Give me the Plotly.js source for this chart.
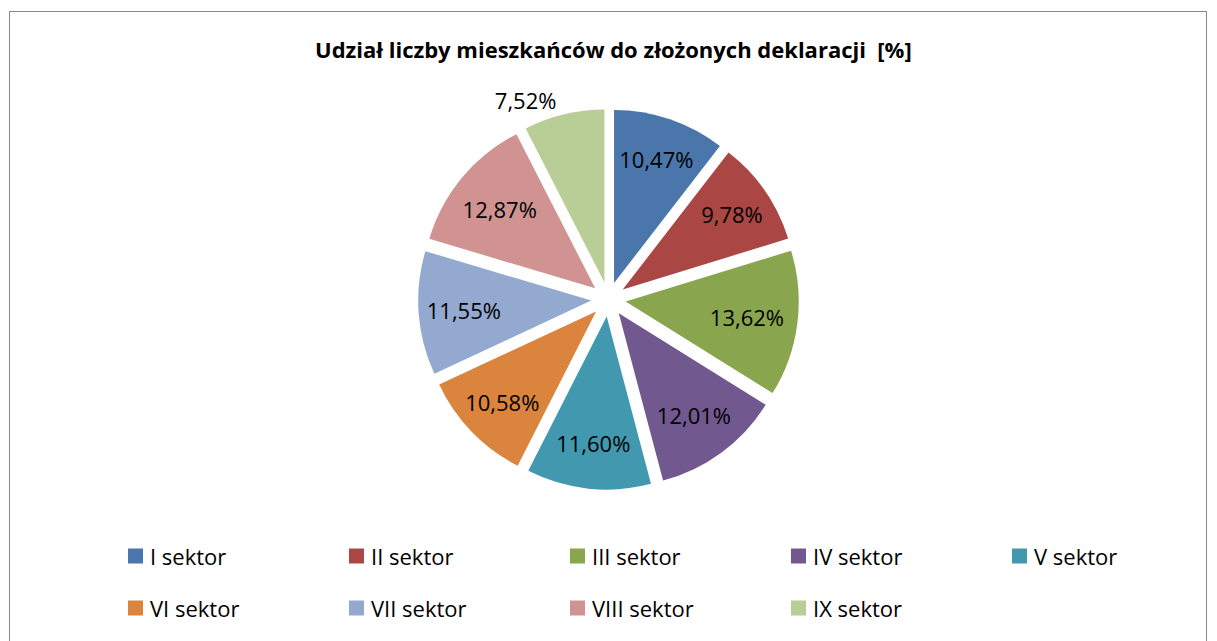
<!DOCTYPE html>
<html>
<head>
<meta charset="utf-8">
<script src="https://cdn.plot.ly/plotly-3.0.1.min.js"></script>
<style>
html,body{margin:0;padding:0;background:#fff;}
#wrap{position:relative;width:1217px;height:641px;}
#chart{width:1217px;height:641px;}
#frame{position:absolute;left:9px;top:11px;width:1196px;height:640px;border:1.5px solid #8a8a8a;pointer-events:none;}
</style>
</head>
<body>
<div id="wrap"><div id="chart"></div><div id="frame"></div></div>
<script>
const categories = ["I sektor","II sektor","III sektor","IV sektor","V sektor","VI sektor","VII sektor","VIII sektor","IX sektor"];
const values = [10.47, 9.78, 13.62, 12.01, 11.60, 10.58, 11.55, 12.87, 7.52];
const colors = ["#4A76AC","#AA4643","#89A54E","#71588F","#4198AF","#DB843D","#93A9CF","#D19392","#B9CD96"];
const textPos = ["inside","inside","inside","inside","inside","inside","inside","inside","outside"];

const FONT = "'Open Sans', Lato, sans-serif";

const trace = {
  type: "pie",
  labels: categories,
  values: values,
  sort: false,
  direction: "clockwise",
  rotation: 0,
  pull: 0.1,
  marker: {colors: colors, line: {color: "#ffffff", width: 0}},
  texttemplate: "%{value:.2f}%",
  textposition: textPos,
  insidetextorientation: "horizontal",
  textfont: {family: FONT, size: 22, color: "#000000"},
  outsidetextfont: {family: FONT, size: 22, color: "#000000"},
  hoverinfo: "label+value",
  domain: {x: [0.2, 0.8], y: [0.236, 0.83]}
};

const layout = {
  width: 1217, height: 641,
  margin: {l: 0, r: 0, t: 0, b: 0},
  paper_bgcolor: "#ffffff",
  separators: ", ",
  showlegend: true,
  title: {
    text: "<b>Udział liczby mieszkańców do złożonych deklaracji  [%]</b>",
    font: {family: FONT, size: 22, color: "#000000"},
    x: 0.504, xanchor: "center", y: 0.922, yanchor: "middle", yref: "container"
  },
  legend: {
    orientation: "h",
    x: 0.09, xanchor: "left",
    y: 0.135, yanchor: "middle",
    bgcolor: "rgba(0,0,0,0)",
    itemwidth: 30,
    font: {family: FONT, size: 22, color: "#000000"},
    traceorder: "normal",
    itemclick: false
  }
};

// legend grid as in the reference: 5 columns, 2 rows
const LEG_COLS = 5, LEG_X0 = 150, LEG_DX = 221, LEG_Y0 = 556, LEG_DY = 52;
const SYM = 15, SYM_GAP = 7;

function parseTr(t){
  const m = /translate\(([-\d.e]+)\s*,\s*([-\d.e]+)\)/.exec(t || "");
  return m ? [parseFloat(m[1]), parseFloat(m[2])] : [0, 0];
}

Plotly.newPlot("chart", [trace], layout, {displayModeBar: false, staticPlot: true}).then(function(gd){
  const sb = gd.querySelector(".legend .scrollbox");
  if (sb) sb.removeAttribute("clip-path");
  const leg = gd.querySelector(".legend");
  if (leg) leg.removeAttribute("clip-path");
  const items = gd.querySelectorAll(".legend .traces");
  const host = gd.getBoundingClientRect();
  items.forEach(function(el, i){
    const p = parseTr(el.getAttribute("transform"));
    const txt = el.querySelector("text.legendtext");
    if (!txt) return;
    const r = txt.getBoundingClientRect();
    const col = i % LEG_COLS, row = Math.floor(i / LEG_COLS);
    const tx = LEG_X0 + col * LEG_DX, ty = LEG_Y0 + row * LEG_DY;
    const dx = tx - (r.left - host.left);
    const dy = ty - (r.top - host.top + r.height / 2);
    el.setAttribute("transform", "translate(" + (p[0] + dx) + "," + (p[1] + dy) + ")");
    // enlarge legend square and place it next to the text
    const sym = el.querySelector(".legendpoints path");
    if (sym) {
      sym.setAttribute("d", "M" + (-SYM/2) + "," + (-SYM/2) + "h" + SYM + "v" + SYM + "h" + (-SYM) + "Z");
      const st = parseTr(sym.getAttribute("transform"));
      const sr = sym.getBoundingClientRect();
      const tr = txt.getBoundingClientRect();
      const sdx = (tr.left - SYM_GAP) - sr.right;
      const sdy = (tr.top + tr.height / 2) - (sr.top + sr.height / 2);
      sym.setAttribute("transform", "translate(" + (st[0] + sdx) + "," + (st[1] + sdy) + ")");
    }
  });
});
</script>
</body>
</html>
